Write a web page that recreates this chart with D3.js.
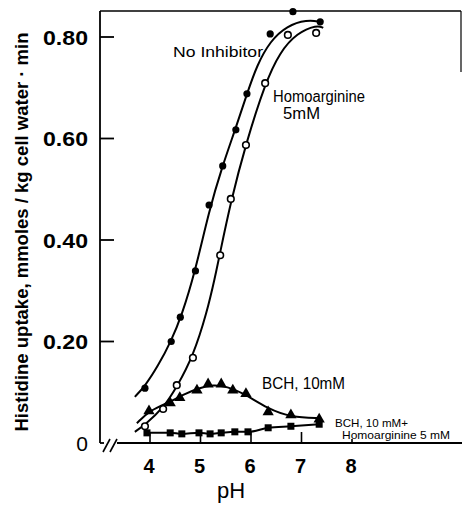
<!DOCTYPE html>
<html><head><meta charset="utf-8">
<script src="https://cdn.jsdelivr.net/npm/d3@7/dist/d3.min.js"></script>
<style>html,body{margin:0;padding:0;background:#fff;}svg{display:block;}</style>
</head><body>
<svg id="chart" width="462" height="509"></svg>
<script>
// ---- data ----
const xTicks = [4, 5, 6, 7, 8];
const yTicks = [0.20, 0.40, 0.60, 0.80];
const yTickLabels = ["0.20", "0.40", "0.60", "0.80"];

// No Inhibitor (filled circles)
const noInhPH  = [3.90, 4.42, 4.60, 4.90, 5.17, 5.44, 5.70, 5.92, 6.38, 6.83, 7.37];
const noInhVal = [0.108, 0.200, 0.248, 0.339, 0.469, 0.546, 0.617, 0.688, 0.806, 0.850, 0.830];
// Homoarginine 5 mM (open circles)
const homoPH  = [3.90, 4.26, 4.53, 4.85, 5.39, 5.60, 5.90, 6.28, 6.73, 7.29];
const homoVal = [0.033, 0.067, 0.114, 0.168, 0.370, 0.481, 0.587, 0.709, 0.804, 0.808];
// BCH 10 mM (filled triangles)
const bchPH  = [3.98, 4.40, 4.59, 4.93, 5.15, 5.41, 5.64, 5.90, 6.34, 6.79, 7.35];
const bchVal = [0.063, 0.079, 0.089, 0.104, 0.116, 0.116, 0.104, 0.097, 0.061, 0.055, 0.047];
// BCH 10 mM + Homoarginine 5 mM (filled squares)
const bchHomoPH  = [3.94, 4.40, 4.63, 4.97, 5.19, 5.41, 5.68, 5.94, 6.34, 6.79, 7.35];
const bchHomoVal = [0.020, 0.020, 0.018, 0.020, 0.018, 0.020, 0.022, 0.022, 0.030, 0.033, 0.037];

// hand-drawn fitted curves (vertices)
const noInhFitPH  = [3.70, 3.90, 4.16, 4.42, 4.63, 4.89, 5.17, 5.43, 5.70, 5.92, 6.12, 6.38, 6.71, 7.11, 7.37];
const noInhFitVal = [0.091, 0.112, 0.152, 0.201, 0.252, 0.336, 0.458, 0.545, 0.621, 0.688, 0.745, 0.792, 0.822, 0.834, 0.830];
const homoFitPH  = [3.70, 3.90, 4.26, 4.54, 4.85, 5.13, 5.29, 5.37, 5.60, 5.90, 6.28, 6.57, 6.91, 7.31, 7.43];
const homoFitVal = [0.022, 0.036, 0.068, 0.112, 0.170, 0.258, 0.328, 0.366, 0.476, 0.590, 0.709, 0.770, 0.808, 0.824, 0.818];
const bchFitPH  = [3.74, 4.00, 4.40, 4.65, 4.95, 5.25, 5.53, 5.84, 6.34, 6.79, 7.37];
const bchFitVal = [0.039, 0.065, 0.081, 0.095, 0.108, 0.115, 0.111, 0.099, 0.067, 0.051, 0.049];

// ---- drawing ----
const svg = d3.select("#chart");
const x = d3.scaleLinear().domain([4, 8]).range([150, 352]);
const y = d3.scaleLinear().domain([0, 0.8]).range([443, 37]);
const x0 = 100, yBase = 443;
const FONT = "Liberation Sans, Arial, sans-serif";

const zip = (a, b) => a.map((v, i) => [v, b[i]]);
const line = d3.line().x(d => x(d[0])).y(d => y(d[1])).curve(d3.curveBasis);

// frame (top line and short right edge, as in the scan)
svg.append("line").attr("x1", x0).attr("x2", 461).attr("y1", 11).attr("y2", 11)
  .attr("stroke", "#000").attr("stroke-width", 1.6);
svg.append("line").attr("x1", 461).attr("x2", 461).attr("y1", 11).attr("y2", 72)
  .attr("stroke", "#000").attr("stroke-width", 1.2);

// y axis
svg.append("line").attr("x1", x0).attr("x2", x0).attr("y1", 11).attr("y2", yBase)
  .attr("stroke", "#000").attr("stroke-width", 1.8);
svg.selectAll(".ytick").data(yTicks).enter().append("line")
  .attr("x1", x0).attr("x2", x0 + 14).attr("y1", d => y(d)).attr("y2", d => y(d))
  .attr("stroke", "#000").attr("stroke-width", 1.8);
svg.selectAll(".ylab").data(yTicks).enter().append("text")
  .attr("x", 88).attr("y", d => y(d) + 7.5).attr("text-anchor", "end")
  .attr("font-family", FONT).attr("font-size", 21).attr("font-weight", "bold")
  .attr("textLength", 45).attr("lengthAdjust", "spacingAndGlyphs")
  .text((d, i) => yTickLabels[i]);
svg.append("text").attr("x", 88).attr("y", y(0) + 8).attr("text-anchor", "end")
  .attr("font-family", FONT).attr("font-size", 21).text("0");

// x axis with break
svg.append("line").attr("x1", x0).attr("x2", 104).attr("y1", yBase).attr("y2", yBase)
  .attr("stroke", "#000").attr("stroke-width", 1.8);
svg.append("line").attr("x1", 117).attr("x2", 462).attr("y1", yBase).attr("y2", yBase)
  .attr("stroke", "#000").attr("stroke-width", 1.8);
[[103, 452, 110, 439], [110, 452, 117, 439]].forEach(s => {
  svg.append("line").attr("x1", s[0]).attr("y1", s[1]).attr("x2", s[2]).attr("y2", s[3])
    .attr("stroke", "#000").attr("stroke-width", 1.6);
});
svg.selectAll(".xtick").data(xTicks).enter().append("line")
  .attr("x1", d => x(d)).attr("x2", d => x(d)).attr("y1", yBase).attr("y2", d => d === 8 ? yBase - 4 : yBase - 11)
  .attr("stroke", "#000").attr("stroke-width", 1.6);
svg.selectAll(".xlab").data(xTicks).enter().append("text")
  .attr("x", d => x(d) - 1).attr("y", 473).attr("text-anchor", "middle")
  .attr("font-family", FONT).attr("font-size", 20).attr("font-weight", "bold")
  .text(d => d);

// axis titles
svg.append("text").attr("x", 231).attr("y", 498).attr("text-anchor", "middle")
  .attr("font-family", FONT).attr("font-size", 22)
  .text("pH");
svg.append("text").attr("transform", "translate(28,232) rotate(-90)").attr("text-anchor", "middle")
  .attr("font-family", FONT).attr("font-size", 18.5).attr("font-weight", "bold")
  .attr("textLength", 399).attr("lengthAdjust", "spacingAndGlyphs")
  .text("Histidine uptake, mmoles / kg cell water · min");

// curves
const curveStyle = sel => sel.attr("fill", "none").attr("stroke", "#000").attr("stroke-width", 2);
svg.append("path").datum(zip(noInhFitPH, noInhFitVal)).attr("d", line).call(curveStyle);
svg.append("path").datum(zip(homoFitPH, homoFitVal)).attr("d", line).call(curveStyle);
svg.append("path").datum(zip(bchFitPH, bchFitVal)).attr("d", line).call(curveStyle);
svg.append("path").datum(zip(bchHomoPH, bchHomoVal))
  .attr("d", d3.line().x(d => x(d[0])).y(d => y(d[1])).curve(d3.curveMonotoneX)).call(curveStyle);

// markers
svg.selectAll(".noinh").data(zip(noInhPH, noInhVal)).enter().append("circle")
  .attr("cx", d => x(d[0])).attr("cy", d => y(d[1])).attr("r", 3.6).attr("fill", "#000");
svg.selectAll(".homo").data(zip(homoPH, homoVal)).enter().append("circle")
  .attr("cx", d => x(d[0])).attr("cy", d => y(d[1])).attr("r", 3.3)
  .attr("fill", "#fff").attr("stroke", "#000").attr("stroke-width", 1.6);
const tri = d3.symbol().type(d3.symbolTriangle).size(55);
svg.selectAll(".bch").data(zip(bchPH, bchVal)).enter().append("path")
  .attr("d", tri).attr("transform", d => `translate(${x(d[0])},${y(d[1])})`).attr("fill", "#000");
svg.selectAll(".bchh").data(zip(bchHomoPH, bchHomoVal)).enter().append("rect")
  .attr("x", d => x(d[0]) - 3.5).attr("y", d => y(d[1]) - 3.5).attr("width", 7).attr("height", 7).attr("fill", "#000");

// annotations
const ann = (txt, ax, ay, size, len) => {
  const t = svg.append("text").attr("x", ax).attr("y", ay)
    .attr("font-family", FONT).attr("font-size", size).text(txt);
  if (len) t.attr("textLength", len).attr("lengthAdjust", "spacingAndGlyphs");
};
ann("No Inhibitor", 173, 57, 15, 90);
ann("Homoarginine", 273, 102, 16, 92);
ann("5mM", 283, 119, 16, 37);
ann("BCH, 10mM", 262, 389, 16, 83);
ann("BCH, 10 mM+", 335, 427, 11.5, 73);
ann("Homoarginine 5 mM", 342, 439, 11, 108);
</script>
</body></html>
